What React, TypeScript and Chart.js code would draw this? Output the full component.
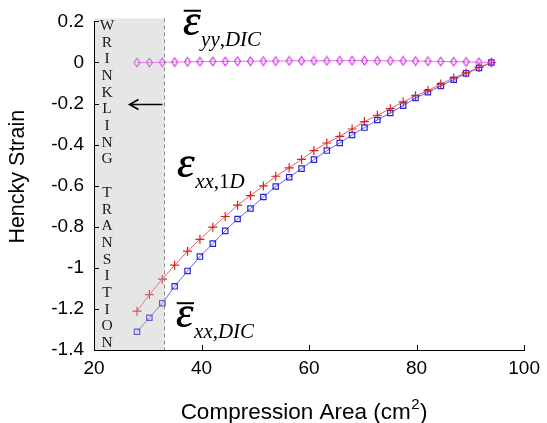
import React, { useEffect, useRef } from "react";
import { Chart, registerables } from "chart.js";

Chart.register(...registerables);

// ---- data ----
const areaCm2 = [
  28.0, 30.3, 32.7, 35.0, 37.4, 39.7, 42.1, 44.4, 46.7, 49.1, 51.5, 53.8, 56.3, 58.6, 60.9,
  63.3, 65.7, 68.0, 70.3, 72.7, 75.1, 77.5, 79.8, 82.1, 84.5, 86.9, 89.2, 91.6, 93.9,
];

const epsYYDIC = [
  0.0, 0.0, 0.001, 0.002, 0.003, 0.004, 0.005, 0.005, 0.006, 0.006, 0.007, 0.007, 0.008, 0.008, 0.008,
  0.008, 0.009, 0.009, 0.009, 0.008, 0.008, 0.008, 0.007, 0.006, 0.005, 0.004, 0.003, 0.001, 0.0,
];

const epsXX1D = [
  -1.211, -1.13, -1.055, -0.987, -0.919, -0.861, -0.802, -0.75, -0.695, -0.648, -0.601, -0.554, -0.513,
  -0.472, -0.429, -0.392, -0.36, -0.324, -0.288, -0.257, -0.225, -0.192, -0.162, -0.137, -0.105, -0.075,
  -0.051, -0.024, 0.0,
];

const epsXXDIC = [
  -1.311, -1.243, -1.172, -1.09, -1.015, -0.945, -0.882, -0.82, -0.762, -0.711, -0.655, -0.604, -0.559,
  -0.517, -0.473, -0.429, -0.392, -0.353, -0.317, -0.28, -0.246, -0.21, -0.173, -0.145, -0.114, -0.084,
  -0.053, -0.027, 0.0,
];

const xTicks = [20, 40, 60, 80, 100];
const yMin = -1.4;
const yMax = 0.2;
const yStep = 0.2;

const transitionArea = 33.1;
const arrowTipArea = 26.6;
const arrowStrain = -0.2;
const sideText = "WRINKLING TRANSITION";
const xTitleMain = "Compression Area (cm";
const xTitleSup = "2";
const xTitleEnd = ")";
const yTitle = "Hencky Strain";

type Part = { t: string; italic: boolean };
const curveLabels: { bar: boolean; parts: Part[]; x: number; y: number }[] = [
  { bar: true, parts: [{ t: "yy", italic: true }, { t: ",", italic: false }, { t: "DIC", italic: true }], x: 36.5, y: 0.135 },
  { bar: false, parts: [{ t: "xx", italic: true }, { t: ",", italic: false }, { t: "1", italic: false }, { t: "D", italic: true }], x: 35.4, y: -0.556 },
  { bar: true, parts: [{ t: "xx", italic: true }, { t: ",", italic: false }, { t: "DIC", italic: true }], x: 35.2, y: -1.289 },
];

const SERIF = '"Liberation Serif", "Times New Roman", serif';
const SANS = '"Liberation Sans", Arial, Helvetica, sans-serif';

function makeDiamond(color: string): HTMLCanvasElement {
  const c = document.createElement("canvas");
  c.width = 9;
  c.height = 11;
  const g = c.getContext("2d")!;
  g.strokeStyle = color;
  g.lineWidth = 1.1;
  g.beginPath();
  g.moveTo(4.5, 1.3);
  g.lineTo(7.5, 5.5);
  g.lineTo(4.5, 9.7);
  g.lineTo(1.5, 5.5);
  g.closePath();
  g.stroke();
  return c;
}

const overlayPlugin = {
  id: "overlay",
  afterDatasetsDraw(chart: any) {
    const { ctx, chartArea, scales } = chart;
    const xs = scales.x;
    const ys = scales.y;
    const { left, top, bottom } = chartArea;
    const xr = xs.getPixelForValue(transitionArea);
    ctx.save();
    // grey transition band
    ctx.fillStyle = "rgba(190,190,190,0.38)";
    ctx.fillRect(left + 1, top - 3, xr - left - 1, bottom - top + 3);
    // dashed boundary
    ctx.strokeStyle = "#8a8a8a";
    ctx.lineWidth = 1;
    ctx.setLineDash([4, 3]);
    ctx.beginPath();
    ctx.moveTo(Math.round(xr) + 0.5, top - 3);
    ctx.lineTo(Math.round(xr) + 0.5, bottom);
    ctx.stroke();
    ctx.setLineDash([]);
    // vertical letters
    ctx.fillStyle = "#1a1a1a";
    ctx.font = `15.5px ${SERIF}`;
    ctx.textAlign = "center";
    ctx.textBaseline = "middle";
    const letters = sideText.split("");
    const y0 = top + 4.5;
    const y1 = bottom - 7;
    const step = (y1 - y0) / (letters.length - 1);
    const lx = left + 13;
    letters.forEach((ch, i) => {
      if (ch !== " ") ctx.fillText(ch, lx, y0 + i * step);
    });
    // arrow
    const ay = Math.round(ys.getPixelForValue(arrowStrain)) + 0.5;
    const ax0 = xr - 2;
    const ax1 = xs.getPixelForValue(arrowTipArea);
    ctx.strokeStyle = "#000";
    ctx.lineWidth = 1.6;
    ctx.beginPath();
    ctx.moveTo(ax0, ay);
    ctx.lineTo(ax1, ay);
    ctx.moveTo(ax1 + 9, ay - 5);
    ctx.lineTo(ax1, ay);
    ctx.lineTo(ax1 + 9, ay + 5);
    ctx.stroke();
    // curve labels
    ctx.textAlign = "left";
    ctx.textBaseline = "alphabetic";
    ctx.fillStyle = "#000";
    curveLabels.forEach((lab) => {
      const px = xs.getPixelForValue(lab.x);
      const py = ys.getPixelForValue(lab.y);
      ctx.font = `italic 44px ${SERIF}`;
      const ew = ctx.measureText("ε").width;
      ctx.fillText("ε", px, py);
      ctx.fillText("ε", px + 0.6, py);
      if (lab.bar) {
        ctx.fillRect(px + 1, py - 25, ew, 2);
      }
      let cx = px + ew + 1;
      lab.parts.forEach((p) => {
        ctx.font = `${p.italic ? "italic " : ""}21px ${SERIF}`;
        ctx.fillText(p.t, cx, py + 11);
        cx += ctx.measureText(p.t).width;
      });
    });
    // inward tick marks
    ctx.strokeStyle = "#000";
    ctx.lineWidth = 1;
    ctx.beginPath();
    ys.ticks.forEach((t: any) => {
      const p = Math.round(ys.getPixelForValue(t.value)) + 0.5;
      ctx.moveTo(left, p);
      ctx.lineTo(left + 5, p);
    });
    xs.ticks.forEach((t: any) => {
      const p = Math.round(xs.getPixelForValue(t.value)) + 0.5;
      ctx.moveTo(p, bottom);
      ctx.lineTo(p, bottom - 5);
    });
    ctx.stroke();
    // x-axis title with superscript
    ctx.fillStyle = "#000";
    ctx.textBaseline = "alphabetic";
    ctx.textAlign = "left";
    const mainFont = `22.5px ${SANS}`;
    const supFont = `15px ${SANS}`;
    ctx.font = mainFont;
    const w1 = ctx.measureText(xTitleMain).width;
    const w3 = ctx.measureText(xTitleEnd).width;
    ctx.font = supFont;
    const w2 = ctx.measureText(xTitleSup).width;
    const total = w1 + w2 + w3 + 1;
    const cxTitle = (chartArea.left + chartArea.right) / 2 - 5;
    let tx = cxTitle - total / 2;
    const baseY = 419;
    ctx.font = mainFont;
    ctx.fillText(xTitleMain, tx, baseY);
    tx += w1;
    ctx.font = supFont;
    ctx.fillText(xTitleSup, tx + 0.5, baseY - 10);
    tx += w2 + 1;
    ctx.font = mainFont;
    ctx.fillText(xTitleEnd, tx, baseY);
    // y-axis title
    ctx.save();
    ctx.translate(18, (top + bottom) / 2 - 9);
    ctx.rotate(-Math.PI / 2);
    ctx.textAlign = "center";
    ctx.textBaseline = "middle";
    ctx.font = `21.5px ${SANS}`;
    ctx.fillText(yTitle, 0, 0);
    ctx.restore();
    ctx.restore();
  },
};

export default function App() {
  const ref = useRef<HTMLCanvasElement | null>(null);
  useEffect(() => {
    if (!ref.current) return;
    const toPts = (ys: number[]) => areaCm2.map((x, i) => ({ x, y: ys[i] }));
    const chart = new Chart(ref.current, {
      type: "line",
      data: {
        datasets: [
          {
            label: "eps_yy,DIC",
            data: toPts(epsYYDIC),
            borderColor: "#e070ee",
            borderWidth: 1,
            pointStyle: makeDiamond("#d22ae8") as any,
            pointRadius: 4,
            pointBorderColor: "#d22ae8",
            pointBackgroundColor: "rgba(0,0,0,0)",
            tension: 0,
          },
          {
            label: "eps_xx,1D",
            data: toPts(epsXX1D),
            borderColor: "#e06060",
            borderWidth: 1,
            pointStyle: "cross",
            pointRadius: 4.5,
            pointBorderWidth: 1.2,
            pointBorderColor: "#d82020",
            pointBackgroundColor: "rgba(0,0,0,0)",
            tension: 0,
          },
          {
            label: "eps_xx,DIC",
            data: toPts(epsXXDIC),
            borderColor: "#6464f0",
            borderWidth: 1,
            pointStyle: "rect",
            pointRadius: 3.8,
            pointBorderWidth: 1.2,
            pointBorderColor: "#2525e0",
            pointBackgroundColor: "rgba(0,0,0,0)",
            tension: 0,
          },
        ],
      },
      options: {
        responsive: false,
        animation: false,
        events: [],
        layout: { padding: { top: 21, right: 19, left: 0, bottom: 0 } },
        plugins: { legend: { display: false }, tooltip: { enabled: false } },
        scales: {
          x: {
            type: "linear",
            min: 20,
            max: 100,
            afterFit: (s: any) => {
              s.height = 73;
            },
            afterBuildTicks: (s: any) => {
              s.ticks = xTicks.map((v) => ({ value: v }));
            },
            grid: { display: false, drawTicks: false },
            border: { display: true, color: "#000", width: 1 },
            ticks: {
              padding: 7,
              color: "#000",
              font: { family: SANS, size: 19 },
              callback: (v: any) => String(v),
            },
            title: { display: false },
          },
          y: {
            type: "linear",
            min: yMin,
            max: yMax,
            afterFit: (s: any) => {
              s.width = 94;
            },
            grid: { display: false, drawTicks: false },
            border: { display: true, color: "#000", width: 1 },
            ticks: {
              stepSize: yStep,
              padding: 10,
              color: "#000",
              font: { family: SANS, size: 19 },
              callback: (v: any) => {
                const n = Number(Number(v).toFixed(1));
                return n === 0 ? "0" : String(n);
              },
            },
            title: { display: false },
          },
        },
      },
      plugins: [overlayPlugin],
    });
    return () => chart.destroy();
  }, []);
  return (
    <div style={{ position: "fixed", left: 0, top: 0, width: 547, height: 423, background: "#fff" }}>
      <canvas ref={ref} width={547} height={423} style={{ display: "block" }} />
    </div>
  );
}
